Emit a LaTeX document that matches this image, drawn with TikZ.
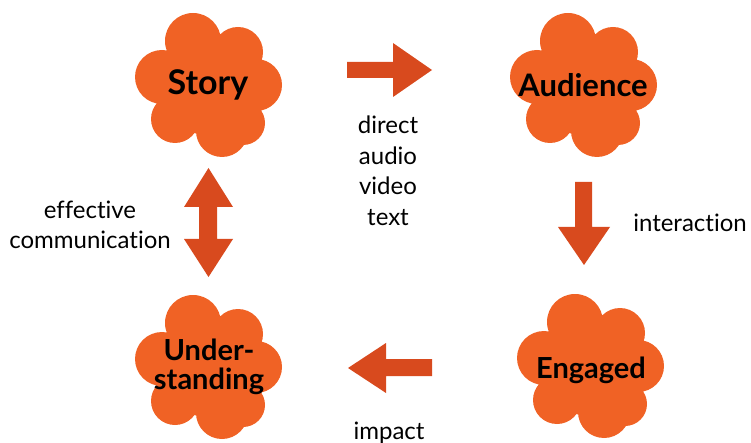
\documentclass[tikz,border=0pt]{standalone}
\usepackage{fontspec}
\setmainfont{Lato}[Ligatures=NoCommon]
\begin{document}
\begin{tikzpicture}[x=1pt,y=-1pt,
  cloudfill/.style={fill={rgb,255:red,240;green,98;blue,37}},
  blockarrow/.style={fill={rgb,255:red,216;green,74;blue,30}},
  lbl/.style={font=\fontsize{24}{30.5}\selectfont, text=black, inner sep=0pt, align=center},
  title/.style={font=\bfseries\fontsize{31}{29}\selectfont, text=black, inner sep=0pt, align=center},
  smalltitle/.style={title, font=\bfseries\fontsize{29}{29}\selectfont},
  puffcloud/.pic={
    \fill[cloudfill]
      (0,0) circle[radius=50pt]
      (-15,-44) circle[radius=28pt]
      (30,-33) circle[radius=25pt]
      (48,0) circle[radius=26pt]
      (35,38) circle[radius=22pt]
      (14,46) circle[radius=26pt]
      (-33,34) circle[radius=24pt]
      (-46,-8) circle[radius=27pt];
  }]
\useasboundingbox (0,0) rectangle (751,443);

% clouds
\pic at (208,85) {puffcloud};
\pic at (583,85) {puffcloud};
\pic at (590,366) {puffcloud};
\pic at (208,367) {puffcloud};

% cloud titles
\node[title, font=\bfseries\fontsize{34}{34}\selectfont] (story) at (208,85) {Story};
\node[title] (audience) at (583,85) {Audience};
\node[smalltitle] (engaged) at (591,370) {Engaged};
\node[smalltitle] (understanding) at (209,367) {Under-\\standing};

% block arrows
\fill[blockarrow] (347,62) -- (393,62) -- (393,43) -- (432,70) -- (393,97) -- (393,78) -- (347,78) -- cycle;
\fill[blockarrow] (575,182) -- (592,182) -- (592,227) -- (610,227) -- (584,265) -- (558,227) -- (575,227) -- cycle;
\fill[blockarrow] (432,359) -- (386,359) -- (386,343) -- (348,368) -- (386,393) -- (386,376) -- (432,376) -- cycle;
\fill[blockarrow] (208.5,168) -- (233,207) -- (217,207) -- (217,239) -- (233,239) -- (208.5,277)
  -- (184,239) -- (199,239) -- (199,207) -- (184,207) -- cycle;

% arrow labels
\node[lbl] (media) at (388,171) {direct\\audio\\video\\text};
\node[lbl] (interaction) at (690,223) {interaction};
\node[lbl, anchor=base] (impact) at (389,439) {impact};
\node[lbl] (effective) at (90,225) {effective\\communication};
\end{tikzpicture}
\end{document}
